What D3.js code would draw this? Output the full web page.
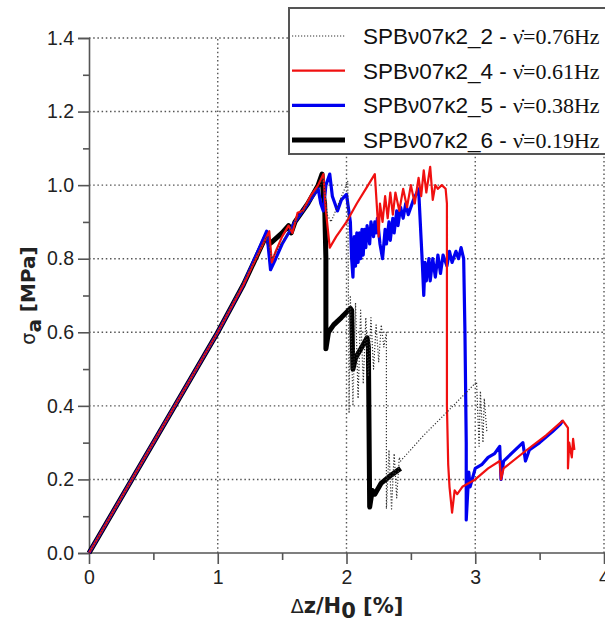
<!DOCTYPE html>
<html>
<head>
<meta charset="utf-8">
<script src="https://cdn.jsdelivr.net/npm/d3@7"></script>
<style>
  html, body { margin: 0; padding: 0; background: #fff; }
  svg { display: block; font-family: "Liberation Sans", Arial, sans-serif; }
</style>
</head>
<body>
<div id="chart"></div>
<script>
// strain [%] vs axial stress [MPa]
const dotted2 = [[0,0],[1.0,0.6],[1.38,0.86],[1.42,0.80],[1.6,0.90],[1.8,1.0],[1.82,1.02],[1.85,0.92],[1.88,0.90],[1.95,0.96],[2.01,1.01],
  [2.02,0.38],[2.03,0.70],[2.05,0.40],[2.07,0.68],[2.09,0.42],[2.11,0.66],[2.13,0.46],[2.15,0.64],[2.17,0.48],[2.19,0.64],[2.21,0.50],
  [2.23,0.62],[2.25,0.52],[2.27,0.62],[2.29,0.56],[2.31,0.60],[2.31,0.12],[2.33,0.28],[2.35,0.12],[2.37,0.27],[2.39,0.15],[2.41,0.26],
  [2.42,0.25],[2.6,0.32],[2.8,0.39],[3.01,0.465],[3.03,0.29],[3.04,0.44],[3.06,0.30],[3.07,0.42],[3.09,0.33]];
const red4 = [[0,0],[0.5,0.30],[1.0,0.60],[1.2,0.73],[1.40,0.875],[1.42,0.79],[1.45,0.82],[1.5,0.86],[1.55,0.89],[1.58,0.87],[1.62,0.925],
  [1.66,0.93],[1.72,0.97],[1.78,1.0],[1.82,1.03],[1.84,0.93],[1.87,0.83],[1.92,0.86],[2.0,0.90],[2.08,0.95],[2.15,0.99],[2.22,1.03],
  [2.24,0.92],[2.25,0.86],[2.26,0.95],[2.28,0.90],[2.30,0.97],[2.32,0.91],[2.34,0.98],[2.36,0.92],[2.38,0.98],[2.41,0.93],[2.44,0.99],
  [2.47,0.94],[2.50,1.00],[2.53,0.95],[2.56,1.02],[2.58,0.97],[2.60,1.04],[2.62,0.98],[2.65,1.05],[2.67,0.96],[2.69,1.00],[2.71,0.99],
  [2.74,1.00],[2.77,0.99],[2.78,0.95],[2.78,0.40],[2.79,0.24],[2.80,0.18],[2.82,0.11],[2.84,0.17],[2.86,0.16],[2.9,0.18],[3.0,0.20],
  [3.1,0.23],[3.19,0.25],[3.2,0.20],[3.22,0.23],[3.4,0.28],[3.55,0.32],[3.68,0.36],[3.72,0.34],[3.72,0.23],[3.73,0.30],[3.75,0.26],
  [3.76,0.31],[3.77,0.28]];
const blue5 = [[0,0],[0.5,0.30],[1.0,0.60],[1.2,0.73],[1.38,0.875],[1.41,0.77],[1.45,0.80],[1.5,0.84],[1.55,0.87],[1.6,0.90],[1.7,0.95],
  [1.78,0.99],[1.80,0.95],[1.82,0.93],[1.84,1.0],[1.87,1.03],[1.89,0.97],[1.91,0.95],[1.93,0.93],[1.96,0.96],[2.0,0.975],[2.03,0.90],
  [2.04,0.80],[2.05,0.75],[2.06,0.86],[2.07,0.78],[2.08,0.87],[2.09,0.79],[2.10,0.87],[2.11,0.80],[2.12,0.88],[2.13,0.81],[2.14,0.88],
  [2.15,0.83],[2.16,0.89],[2.18,0.84],[2.19,0.90],[2.21,0.86],[2.22,0.90],[2.23,0.87],[2.24,0.91],[2.26,0.84],[2.28,0.80],[2.30,0.88],
  [2.31,0.84],[2.33,0.90],[2.34,0.85],[2.36,0.91],[2.37,0.87],[2.39,0.93],[2.40,0.89],[2.42,0.94],[2.44,0.91],[2.46,0.95],[2.48,0.92],
  [2.52,0.96],[2.56,0.99],[2.58,0.85],[2.59,0.78],[2.60,0.70],[2.61,0.79],[2.62,0.74],[2.64,0.80],[2.65,0.74],[2.67,0.80],[2.69,0.75],
  [2.71,0.81],[2.73,0.76],[2.75,0.81],[2.78,0.78],[2.80,0.82],[2.82,0.79],[2.85,0.82],[2.87,0.80],[2.89,0.83],[2.91,0.80],[2.92,0.60],
  [2.93,0.30],[2.93,0.09],[2.95,0.22],[2.96,0.18],[3.0,0.23],[3.05,0.24],[3.1,0.26],[3.15,0.27],[3.19,0.29],[3.20,0.20],[3.22,0.25],
  [3.28,0.27],[3.37,0.30],[3.39,0.25],[3.42,0.28],[3.5,0.30],[3.6,0.33],[3.66,0.35],[3.68,0.36]];
const black6 = [[0,0],[0.5,0.30],[1.0,0.60],[1.2,0.73],[1.38,0.865],[1.40,0.84],[1.42,0.845],[1.5,0.87],[1.55,0.89],[1.57,0.87],[1.60,0.90],
  [1.70,0.95],[1.78,1.0],[1.81,1.03],[1.82,0.97],[1.83,0.95],[1.84,0.80],[1.84,0.555],[1.86,0.60],[1.9,0.62],[1.96,0.64],[2.03,0.665],
  [2.04,0.66],[2.05,0.50],[2.07,0.53],[2.12,0.56],[2.16,0.585],[2.17,0.56],[2.18,0.125],[2.20,0.17],[2.22,0.16],[2.27,0.19],[2.34,0.21],
  [2.42,0.23]];

const seriesNames = ["SPB\u03bd07\u03ba2_2 - ", "SPB\u03bd07\u03ba2_4 - ", "SPB\u03bd07\u03ba2_5 - ", "SPB\u03bd07\u03ba2_6 - "];
const frequencies = ["\u03bd\u0307=0.76Hz", "\u03bd\u0307=0.61Hz", "\u03bd\u0307=0.38Hz", "\u03bd\u0307=0.19Hz"];
const xTicks = [0, 1, 2, 3, 4];
const xMinor = [0.5, 1.5, 2.5, 3.5];
const yTicks = [0, 0.2, 0.4, 0.6, 0.8, 1.0, 1.2, 1.4];
const yMinor = [0.1, 0.3, 0.5, 0.7, 0.9, 1.1, 1.3];

const W = 605, H = 623;
const x = d3.scaleLinear().domain([0, 4]).range([89, 604]);
const y = d3.scaleLinear().domain([0, 1.4]).range([553, 38]);

const svg = d3.select("#chart").append("svg")
    .attr("width", W).attr("height", H);

// dotted grid
svg.append("g").selectAll("line").data(yTicks.slice(1)).join("line")
    .attr("x1", x(0)).attr("x2", W)
    .attr("y1", d => y(d)).attr("y2", d => y(d))
    .attr("stroke", "#555").attr("stroke-width", 1.4).attr("stroke-dasharray", "1.5,2.7");
svg.append("g").selectAll("line").data(xTicks.slice(1)).join("line")
    .attr("x1", d => x(d)).attr("x2", d => x(d))
    .attr("y1", y(0)).attr("y2", y(1.4))
    .attr("stroke", "#555").attr("stroke-width", 1.4).attr("stroke-dasharray", "1.5,2.7");

// axes
svg.append("g").attr("transform", `translate(${x(0)},0)`)
    .call(d3.axisLeft(y).tickValues(yTicks).tickFormat(d3.format(".1f")).tickSize(11).tickPadding(4));
svg.append("g").attr("transform", `translate(${x(0)},0)`)
    .call(d3.axisLeft(y).tickValues(yMinor).tickFormat("").tickSize(6))
    .select(".domain").remove();
const xAxis = svg.append("g").attr("transform", `translate(0,${y(0)})`)
    .call(d3.axisBottom(x).tickValues(xTicks).tickFormat(d3.format("d")).tickSize(11).tickPadding(6));
svg.append("g").attr("transform", `translate(0,${y(0)})`)
    .call(d3.axisBottom(x).tickValues(xMinor).tickFormat("").tickSize(7))
    .select(".domain").remove();
xAxis.select(".domain").attr("d", `M${x(0)},0H${W}`);
svg.selectAll(".tick line, .domain").attr("stroke", "#555").attr("stroke-width", 1.6);
svg.selectAll(".tick text").attr("font-size", 19.5).attr("fill", "#222")
    .attr("font-family", "'Liberation Sans', Arial, sans-serif");

// curves
const line = d3.line().x(d => x(d[0])).y(d => y(d[1]));
const styles = [
  {data: black6, color: "#000", w: 5, dash: null},
  {data: blue5, color: "#0000f0", w: 3.2, dash: null},
  {data: red4, color: "#f01010", w: 2.2, dash: null},
  {data: dotted2, color: "#333", w: 1.2, dash: "1.2,1.8"}
];
styles.forEach(s => {
  svg.append("path").datum(s.data)
      .attr("d", line)
      .attr("fill", "none")
      .attr("stroke", s.color)
      .attr("stroke-width", s.w)
      .attr("stroke-linejoin", "round")
      .attr("stroke-dasharray", s.dash);
});

// axis titles
const yt = svg.append("text")
    .attr("transform", `translate(35,${(y(0) + y(1.4)) / 2}) rotate(-90)`)
    .attr("text-anchor", "middle").attr("fill", "#222").attr("font-size", 20)
    .attr("font-family", "'DejaVu Sans', Verdana, sans-serif");
yt.append("tspan").text("\u03c3").attr("font-size", 19);
yt.append("tspan").text("a").attr("font-weight", "bold").attr("dy", 6);
yt.append("tspan").text(" [MPa]").attr("font-weight", "bold").attr("dy", -6);

const xt = svg.append("text")
    .attr("x", 347).attr("y", 613)
    .attr("text-anchor", "middle").attr("fill", "#222").attr("font-size", 21)
    .attr("font-family", "'DejaVu Sans', Verdana, sans-serif");
xt.append("tspan").text("\u0394").attr("font-size", 19);
xt.append("tspan").text("z/H").attr("font-weight", "bold");
xt.append("tspan").text("0").attr("font-weight", "bold").attr("dy", 5);
xt.append("tspan").text(" [%]").attr("font-weight", "bold").attr("dy", -5);

// legend
const legend = svg.append("g");
legend.append("rect")
    .attr("x", 289).attr("y", 8).attr("width", 330).attr("height", 146)
    .attr("fill", "#fff").attr("stroke", "#555").attr("stroke-width", 2);
const legendOrder = [styles[3], styles[2], styles[1], styles[0]];
legendOrder.forEach((s, i) => {
  const cy = 36 + i * 34.7;
  legend.append("line")
      .attr("x1", 292).attr("x2", 345).attr("y1", cy).attr("y2", cy)
      .attr("stroke", s.color).attr("stroke-width", s.w)
      .attr("stroke-dasharray", s.dash);
  const t = legend.append("text").attr("x", 363).attr("y", cy + 8).attr("fill", "#111");
  t.append("tspan").text(seriesNames[i]).attr("font-size", 22.5);
  t.append("tspan").text(frequencies[i]).attr("font-size", 22)
      .attr("font-family", "'Liberation Serif', 'Times New Roman', serif");
});
</script>
</body>
</html>
